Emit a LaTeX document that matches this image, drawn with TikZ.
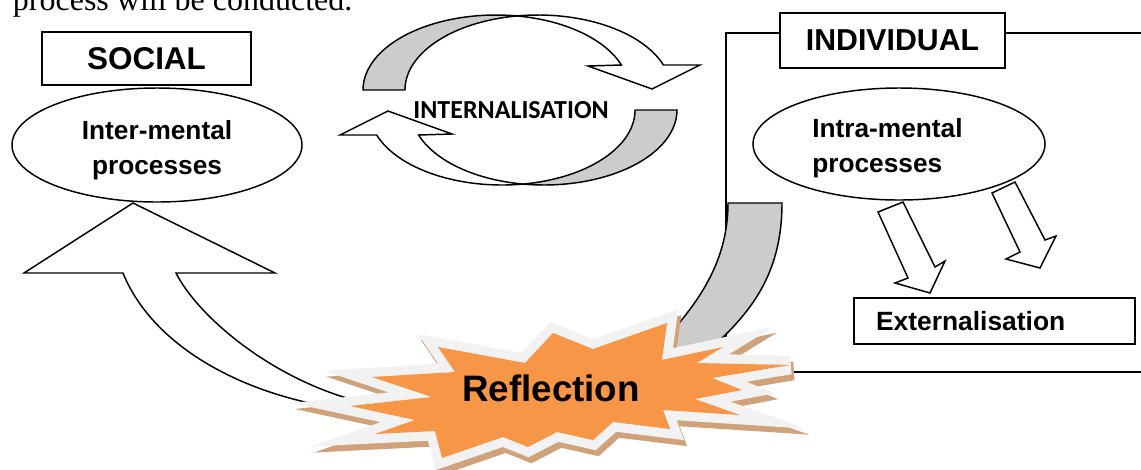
\documentclass[tikz,border=0pt]{standalone}
\usepackage{fontspec}
\setmainfont{Liberation Serif}
\setsansfont{Liberation Sans}
\newfontfamily\calibrifont{Carlito}
\usetikzlibrary{shapes.geometric}

\definecolor{starorange}{HTML}{F79646}
\definecolor{starrim}{HTML}{F2F2F2}
\definecolor{starshade}{HTML}{CFA27A}
\definecolor{backgray}{HTML}{CCCCCC}

\tikzset{
  outline/.style={draw=black, line width=1.1pt},
  titlebox/.style={outline, fill=white, rectangle, inner sep=0pt},
  mind/.style={outline, fill=white, ellipse, inner sep=0pt},
  mindtext/.style={inner sep=0pt, font=\sffamily\bfseries\fontsize{19.7}{26.25}\selectfont},
}

\newcommand{\reflectpath}{(438,347) -- (525,363) -- (553,333) -- (593,349) -- (667,323) -- (662,360)
  -- (723,347) -- (697,363) -- (790,365) -- (712,378) -- (742,390) -- (695,399) -- (740,415)
  -- (663,410) -- (670,429) -- (613,422) -- (593,440) -- (557,432) -- (528,447) -- (503,437)
  -- (442,458) -- (435,431) -- (375,434) -- (415,420) -- (350,406) -- (432,397) -- (372,377)
  -- (455,372) -- cycle}

\begin{document}
\begin{tikzpicture}[x=0.75pt, y=-0.75pt]
\clip (0,0) rectangle (1141,469);

\node (toptext) [anchor=base west, inner sep=0pt, font=\fontsize{24}{28}\selectfont] at (12.7,10) {process will be conducted.};

\draw[outline, line width=1.3pt] (1145,33) -- (726,33) -- (726,372) -- (1145,372);

\node (social) [titlebox, minimum width=156.75pt, minimum height=39.75pt, font=\sffamily\bfseries\fontsize{23.6}{28}\selectfont] at (146.5,58.5) {SOCIAL};
\node (individual) [titlebox, minimum width=168.75pt, minimum height=41.25pt, font=\sffamily\bfseries\fontsize{22.7}{27}\selectfont] at (892.5,40.5) {INDIVIDUAL};

\node (inter) [mind, minimum width=217.5pt, minimum height=85.5pt] at (157,145) {};
\node (intra) [mind, minimum width=219pt, minimum height=84pt] at (899,144) {};
\node (intertext) [mindtext, align=center] at (157,150) {Inter-mental\\processes};
\node (intratext) [mindtext, align=left, anchor=west] at (812,148) {Intra-mental\\processes};

\filldraw[outline, fill=white] (878,212) -- (908,278) -- (895,283) -- (930,293) -- (945,261) -- (935,267) -- (903,202) -- cycle;
\filldraw[outline, fill=white] (992,193) -- (1020,252) -- (1006,259) -- (1040,268) -- (1056,236) -- (1045,240) -- (1015,182) -- cycle;

\node (extern) [titlebox, minimum height=34.5pt, text width=177.75pt, inner xsep=16.5pt, align=left, font=\sffamily\bfseries\fontsize{19.8}{24}\selectfont] at (994.5,321) {Externalisation};

\foreach \turn in {0,180} {
  \begin{scope}[rotate around={\turn:(520,100)}]
    \filldraw[outline, fill=backgray] (363,90) arc[start angle=180, end angle=279.08, x radius=133, y radius=75]
      arc[start angle=260.92, end angle=180, x radius=133, y radius=75] -- cycle;
    \filldraw[outline, fill=white] (517,15.94) arc[start angle=260.92, end angle=340.53, x radius=133, y radius=75]
      -- (700,65) -- (652,89) -- (588,66) -- (621.4,65)
      arc[start angle=340.53, end angle=279.08, x radius=133, y radius=75] -- cycle;
  \end{scope}
}
\node (internal) [inner sep=0pt, font=\calibrifont\bfseries\fontsize{19.5}{23}\selectfont] at (511,110) {INTERNALISATION};

\filldraw[outline, fill=white] (133,203) -- (275,273) -- (176,273) .. controls (200,320) and (280,385) .. (370,404)
  -- (330,407) .. controls (230,390) and (150,340) .. (123,273) -- (24,273) -- cycle;

\filldraw[outline, fill=backgray] (728,203) -- (782,203) .. controls (782,280) and (745,318) .. (705,354)
  -- (664,352) -- (668,336) .. controls (700,300) and (728,260) .. (728,203) -- cycle;

\filldraw[starshade, line width=14pt, line join=miter, miter limit=8, shift={(3,6)}] \reflectpath;
\filldraw[starrim, line width=14pt, line join=miter, miter limit=8] \reflectpath;
\fill[starorange] \reflectpath;
\node (reflect) [inner sep=0pt, font=\sffamily\bfseries\fontsize{27.6}{32}\selectfont] at (551,388) {Reflection};
\end{tikzpicture}
\end{document}
